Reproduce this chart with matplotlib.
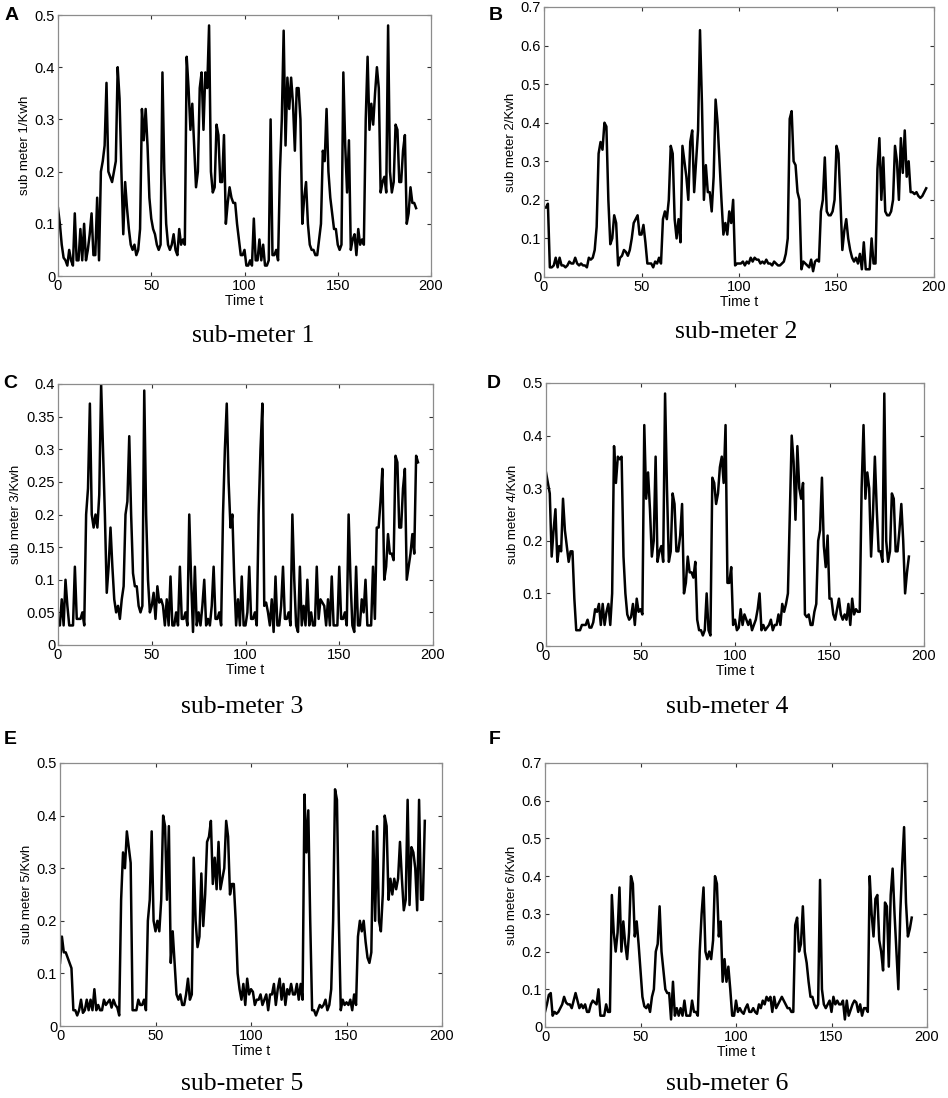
import numpy as np
import matplotlib
matplotlib.use("Agg")
import matplotlib.pyplot as plt

sub1 = [0.13,0.10,0.06,0.035,0.03,0.02,0.05,0.03,0.02,0.12,0.03,0.03,0.09,0.03,0.10,0.03,0.05,0.08,0.12,0.04,
        0.04,0.15,0.03,0.20,0.22,0.25,0.37,0.20,0.19,0.18,0.20,0.22,0.40,0.34,0.20,0.08,0.18,0.13,0.09,0.06,
        0.05,0.06,0.04,0.05,0.09,0.32,0.26,0.32,0.25,0.15,0.11,0.09,0.08,0.06,0.05,0.06,0.39,0.20,0.10,0.06,
        0.05,0.06,0.08,0.05,0.04,0.09,0.06,0.07,0.06,0.42,0.36,0.28,0.33,0.25,0.17,0.20,0.36,0.39,0.28,0.39,
        0.36,0.48,0.20,0.16,0.17,0.29,0.27,0.18,0.18,0.27,0.10,0.14,0.17,0.15,0.14,0.14,0.10,0.07,0.04,0.04,
        0.05,0.02,0.02,0.03,0.02,0.11,0.03,0.03,0.07,0.03,0.06,0.02,0.02,0.03,0.30,0.04,0.04,0.05,0.03,0.20,
        0.30,0.47,0.25,0.38,0.32,0.38,0.33,0.24,0.36,0.36,0.30,0.10,0.15,0.18,0.10,0.06,0.05,0.05,0.04,0.04,
        0.07,0.10,0.24,0.22,0.32,0.20,0.15,0.12,0.09,0.09,0.06,0.05,0.06,0.39,0.25,0.16,0.26,0.05,0.07,0.08,
        0.04,0.09,0.06,0.07,0.06,0.30,0.42,0.28,0.33,0.29,0.35,0.40,0.36,0.16,0.18,0.19,0.16,0.48,0.20,0.16,
        0.18,0.29,0.28,0.18,0.18,0.24,0.27,0.10,0.12,0.17,0.14,0.14,0.13]

sub2 = [0.18,0.18,0.19,0.025,0.025,0.03,0.05,0.025,0.05,0.03,0.03,0.025,0.03,0.04,0.035,0.035,0.05,0.035,0.03,0.035,
        0.03,0.03,0.025,0.05,0.045,0.05,0.07,0.13,0.32,0.35,0.33,0.40,0.39,0.20,0.085,0.10,0.16,0.14,0.03,0.05,
        0.055,0.07,0.065,0.055,0.07,0.10,0.14,0.15,0.16,0.11,0.11,0.135,0.09,0.035,0.035,0.035,0.025,0.04,0.035,0.05,
        0.035,0.15,0.17,0.15,0.20,0.34,0.32,0.15,0.10,0.15,0.09,0.34,0.30,0.26,0.20,0.35,0.38,0.22,0.30,0.38,
        0.64,0.45,0.20,0.29,0.22,0.22,0.17,0.26,0.46,0.40,0.30,0.20,0.11,0.14,0.11,0.17,0.14,0.20,0.03,0.035,
        0.035,0.035,0.04,0.03,0.04,0.035,0.05,0.04,0.05,0.045,0.045,0.035,0.04,0.035,0.045,0.035,0.035,0.03,0.04,0.035,
        0.03,0.03,0.035,0.04,0.06,0.10,0.41,0.43,0.30,0.29,0.22,0.20,0.02,0.04,0.035,0.03,0.025,0.045,0.015,0.04,
        0.045,0.04,0.17,0.20,0.31,0.17,0.16,0.16,0.17,0.20,0.34,0.32,0.20,0.07,0.12,0.15,0.10,0.07,0.05,0.04,
        0.05,0.035,0.06,0.02,0.09,0.02,0.02,0.02,0.10,0.035,0.035,0.28,0.36,0.20,0.31,0.17,0.16,0.16,0.17,0.20,
        0.34,0.30,0.20,0.36,0.27,0.38,0.26,0.30,0.22,0.22,0.215,0.22,0.21,0.205,0.21,0.22,0.23]

sub3 = [0.03,0.03,0.07,0.03,0.10,0.06,0.03,0.03,0.03,0.12,0.04,0.04,0.04,0.05,0.03,0.20,0.24,0.37,0.20,0.18,
        0.20,0.18,0.23,0.40,0.30,0.20,0.08,0.12,0.18,0.12,0.07,0.05,0.06,0.04,0.07,0.09,0.20,0.22,0.32,0.20,
        0.11,0.09,0.09,0.06,0.05,0.06,0.39,0.20,0.10,0.05,0.06,0.08,0.04,0.09,0.065,0.07,0.06,0.03,0.07,0.03,
        0.105,0.03,0.03,0.05,0.03,0.12,0.04,0.04,0.05,0.03,0.20,0.10,0.02,0.12,0.03,0.05,0.03,0.06,0.10,0.03,
        0.04,0.03,0.06,0.12,0.04,0.04,0.05,0.03,0.20,0.30,0.37,0.25,0.18,0.20,0.10,0.03,0.07,0.03,0.105,0.03,
        0.03,0.05,0.12,0.04,0.04,0.05,0.03,0.20,0.30,0.37,0.06,0.065,0.05,0.03,0.07,0.02,0.105,0.03,0.03,0.06,
        0.12,0.04,0.04,0.05,0.03,0.20,0.10,0.03,0.02,0.12,0.03,0.06,0.03,0.10,0.03,0.05,0.03,0.03,0.12,0.04,
        0.07,0.065,0.06,0.03,0.07,0.03,0.105,0.03,0.03,0.03,0.12,0.04,0.04,0.05,0.03,0.20,0.10,0.03,0.02,0.12,
        0.03,0.03,0.07,0.05,0.10,0.03,0.03,0.03,0.12,0.04,0.18,0.18,0.22,0.27,0.10,0.12,0.17,0.14,0.14,0.13,
        0.29,0.28,0.18,0.18,0.24,0.27,0.10,0.12,0.14,0.17,0.14,0.29,0.28]

sub4 = [0.33,0.31,0.29,0.17,0.22,0.26,0.16,0.19,0.18,0.28,0.22,0.19,0.16,0.18,0.18,0.09,0.03,0.03,0.03,0.04,
        0.04,0.04,0.05,0.035,0.035,0.045,0.07,0.065,0.08,0.04,0.08,0.04,0.065,0.08,0.04,0.10,0.38,0.31,0.36,0.355,
        0.36,0.17,0.10,0.06,0.05,0.055,0.08,0.04,0.09,0.065,0.07,0.06,0.42,0.28,0.33,0.26,0.17,0.20,0.36,0.16,
        0.18,0.19,0.16,0.48,0.30,0.16,0.18,0.29,0.27,0.18,0.18,0.21,0.27,0.10,0.12,0.17,0.14,0.14,0.13,0.16,
        0.05,0.03,0.03,0.02,0.03,0.10,0.03,0.02,0.32,0.31,0.27,0.29,0.34,0.36,0.31,0.42,0.12,0.12,0.15,0.04,
        0.05,0.03,0.035,0.07,0.04,0.06,0.05,0.04,0.05,0.03,0.04,0.05,0.07,0.10,0.03,0.04,0.03,0.035,0.04,0.05,
        0.03,0.04,0.04,0.06,0.04,0.08,0.065,0.08,0.10,0.25,0.40,0.35,0.24,0.38,0.30,0.28,0.31,0.06,0.055,0.06,
        0.04,0.04,0.065,0.08,0.20,0.22,0.32,0.19,0.15,0.21,0.09,0.09,0.06,0.05,0.07,0.09,0.06,0.05,0.06,0.05,
        0.08,0.04,0.09,0.06,0.07,0.065,0.065,0.30,0.42,0.28,0.33,0.30,0.17,0.25,0.36,0.26,0.18,0.18,0.16,0.48,
        0.20,0.16,0.18,0.29,0.28,0.18,0.18,0.22,0.27,0.20,0.10,0.14,0.17]

sub5 = [0.12,0.17,0.14,0.14,0.13,0.12,0.11,0.03,0.03,0.02,0.03,0.05,0.025,0.03,0.05,0.03,0.05,0.03,0.07,0.03,
        0.04,0.03,0.03,0.05,0.04,0.045,0.05,0.035,0.05,0.04,0.035,0.02,0.24,0.33,0.30,0.37,0.34,0.31,0.03,0.03,
        0.03,0.05,0.04,0.04,0.05,0.03,0.20,0.24,0.37,0.20,0.18,0.20,0.18,0.24,0.40,0.38,0.24,0.38,0.12,0.18,
        0.12,0.06,0.05,0.06,0.04,0.04,0.06,0.09,0.05,0.06,0.32,0.20,0.15,0.17,0.29,0.19,0.25,0.35,0.36,0.39,
        0.27,0.32,0.26,0.35,0.26,0.28,0.30,0.39,0.36,0.25,0.27,0.27,0.20,0.10,0.07,0.05,0.08,0.04,0.09,0.06,
        0.07,0.065,0.04,0.05,0.05,0.06,0.04,0.05,0.06,0.03,0.06,0.06,0.08,0.04,0.07,0.09,0.05,0.08,0.04,0.07,
        0.06,0.08,0.06,0.06,0.08,0.05,0.08,0.05,0.44,0.33,0.41,0.20,0.03,0.03,0.02,0.03,0.04,0.035,0.04,0.05,
        0.03,0.04,0.07,0.20,0.45,0.43,0.20,0.03,0.05,0.04,0.045,0.04,0.05,0.03,0.06,0.04,0.17,0.20,0.18,0.20,
        0.16,0.13,0.12,0.14,0.37,0.20,0.38,0.20,0.18,0.25,0.40,0.38,0.24,0.28,0.25,0.28,0.26,0.28,0.35,0.28,
        0.22,0.24,0.43,0.23,0.34,0.33,0.30,0.22,0.43,0.24,0.24,0.39]

sub6 = [0.04,0.06,0.085,0.09,0.03,0.04,0.035,0.04,0.05,0.06,0.08,0.065,0.06,0.06,0.05,0.07,0.09,0.07,0.05,0.06,
        0.05,0.06,0.04,0.04,0.06,0.07,0.065,0.06,0.10,0.03,0.03,0.03,0.06,0.04,0.04,0.35,0.25,0.20,0.25,0.37,
        0.20,0.28,0.22,0.18,0.25,0.40,0.38,0.24,0.28,0.22,0.15,0.08,0.055,0.05,0.06,0.04,0.08,0.10,0.20,0.22,
        0.32,0.20,0.15,0.10,0.09,0.09,0.02,0.12,0.03,0.05,0.03,0.05,0.03,0.07,0.03,0.03,0.03,0.07,0.04,0.04,
        0.03,0.20,0.30,0.37,0.20,0.18,0.20,0.18,0.23,0.40,0.38,0.24,0.28,0.12,0.18,0.12,0.16,0.10,0.03,0.03,
        0.07,0.04,0.05,0.04,0.035,0.05,0.06,0.04,0.04,0.05,0.04,0.035,0.06,0.05,0.07,0.06,0.08,0.07,0.08,0.04,
        0.08,0.05,0.06,0.07,0.08,0.07,0.06,0.05,0.05,0.04,0.04,0.27,0.29,0.20,0.22,0.32,0.20,0.17,0.12,0.08,
        0.08,0.06,0.05,0.06,0.39,0.10,0.06,0.05,0.06,0.07,0.04,0.08,0.06,0.07,0.06,0.06,0.07,0.02,0.07,0.03,
        0.045,0.06,0.07,0.065,0.04,0.06,0.03,0.05,0.05,0.04,0.40,0.30,0.24,0.34,0.35,0.23,0.20,0.15,0.33,0.32,
        0.16,0.35,0.42,0.30,0.20,0.10,0.30,0.43,0.53,0.33,0.24,0.26,0.29]

series = [sub1, sub2, sub3, sub4, sub5, sub6]
ymax = [0.5, 0.7, 0.4, 0.5, 0.5, 0.7]
ystep = [0.1, 0.1, 0.05, 0.1, 0.1, 0.1]
ylabels = ["sub meter 1/Kwh", "sub meter 2/Kwh", "sub meter 3/Kwh",
           "sub meter 4/Kwh", "sub meter 5/Kwh", "sub meter 6/Kwh"]
titles = ["sub-meter 1", "sub-meter 2", "sub-meter 3", "sub-meter 4", "sub-meter 5", "sub-meter 6"]
letters = ["A", "B", "C", "D", "E", "F"]

W, H = 948, 1098
# axes boxes in pixels: left, right, top, bottom
boxes = [(58, 431, 15, 276), (544, 934, 7, 277),
         (58, 433, 384, 645), (546, 924, 383, 646),
         (60, 442, 763, 1026), (545, 927, 763, 1027)]
title_pos = [(253, 336), (736, 332), (242, 707), (727, 707), (242, 1084), (727, 1084)]
letter_pos = [(12, 16), (496, 16), (10, 383), (494, 383), (10, 740), (495, 740)]

plt.rcParams['font.family'] = ['Liberation Sans', 'DejaVu Sans']
fig = plt.figure(figsize=(W / 100, H / 100), dpi=100)

for i in range(6):
    l, r, t, b = boxes[i]
    ax = fig.add_axes([l / W, 1 - b / H, (r - l) / W, (b - t) / H])
    y = np.array(series[i])
    x = np.arange(len(y))
    ax.plot(x, y, color='black', lw=1.8)
    ax.set_xlim(0, 200)
    ax.set_ylim(0, ymax[i])
    ax.set_xticks([0, 50, 100, 150, 200])
    n = int(round(ymax[i] / ystep[i]))
    yt = [round(k * ystep[i], 2) for k in range(n + 1)]
    ax.set_yticks(yt)
    ax.set_yticklabels([("%g" % v) for v in yt])
    for s in ax.spines.values():
        s.set_color('#8c8c8c')
        s.set_linewidth(0.9)
    ax.tick_params(direction='in', length=3, width=0.8, color='#333333',
                   top=True, right=True, labelsize=10.5, pad=2)
    ax.set_xlabel("Time t", fontsize=10, labelpad=1)
    ax.set_ylabel(ylabels[i], fontsize=9.5, labelpad=3)
    tx, ty = title_pos[i]
    fig.text(tx / W, 1 - ty / H, titles[i], ha='center', va='center',
             fontsize=18.5, family=['Liberation Serif', 'DejaVu Serif'])
    lx, ly = letter_pos[i]
    fig.text(lx / W, 1 - ly / H, letters[i], ha='center', va='center',
             fontsize=14, fontweight='bold')

fig.savefig("out.png", dpi=100)
